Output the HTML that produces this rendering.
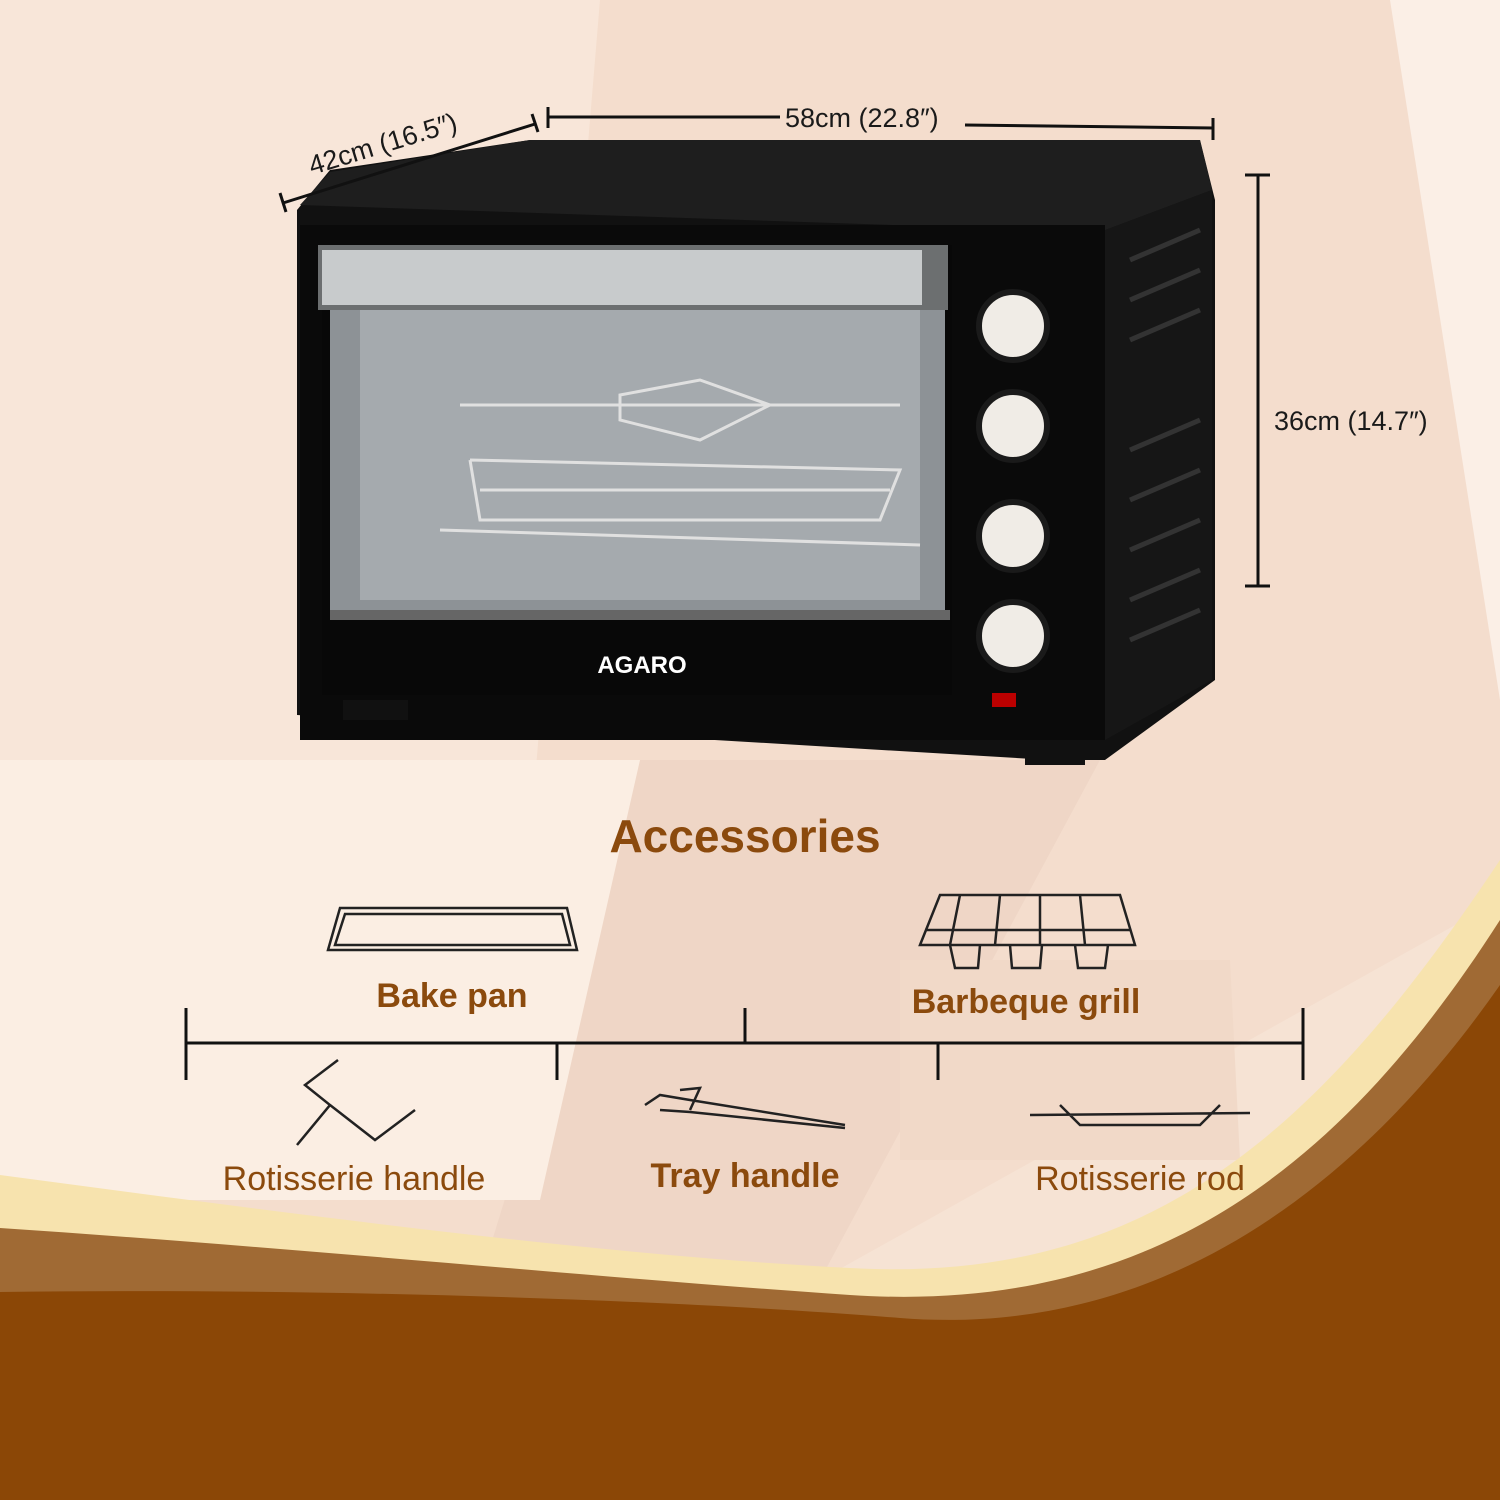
<!DOCTYPE html>
<html><head><meta charset="utf-8"><style>
html,body{margin:0;padding:0;width:1500px;height:1500px;overflow:hidden;background:#f6e1d2}
svg{display:block}
</style></head><body>
<svg width="1500" height="1500" viewBox="0 0 1500 1500" xmlns="http://www.w3.org/2000/svg" font-family="Liberation Sans, sans-serif">
<rect width="1500" height="1500" fill="#f4ddcd"/>
<polygon points="0,0 600,0 500,1200 0,1200" fill="#f8e6d9"/>
<polygon points="1390,0 1500,0 1500,700" fill="#fbefe6"/>
<polygon points="640,760 1100,760 820,1280 480,1280" fill="#efd6c6"/>
<polygon points="820,1280 1500,900 1500,1280" fill="#f6e3d4"/>
<polygon points="900,960 1230,960 1240,1160 900,1160" fill="#f1d9c8"/>
<polygon points="0,760 640,760 540,1200 0,1200" fill="#fbeee3"/>
<path d="M0,1175 C300,1215 600,1255 850,1268 C1150,1285 1320,1130 1500,860 L1500,1500 L0,1500Z" fill="#f7e3ae"/>
<path d="M0,1228 C300,1248 600,1278 850,1295 C1150,1315 1340,1170 1500,920 L1500,1500 L0,1500Z" fill="#a06a34"/>
<path d="M0,1292 C300,1288 650,1298 900,1318 C1150,1338 1350,1200 1500,985 L1500,1500 L0,1500Z" fill="#8b4706"/>
<!-- oven -->
<polygon points="330,170 530,140 1200,140 1215,200 1215,680 1105,760 1050,760 297,715 297,210" fill="#111"/>
<polygon points="530,140 1200,140 1212,190 1100,232 300,205 330,172" fill="#1e1e1e"/>
<polygon points="1100,232 1212,190 1212,680 1105,740" fill="#161616"/>
<g stroke="#333" stroke-width="5">
<line x1="1130" y1="260" x2="1200" y2="230"/><line x1="1130" y1="300" x2="1200" y2="270"/>
<line x1="1130" y1="340" x2="1200" y2="310"/><line x1="1130" y1="450" x2="1200" y2="420"/>
<line x1="1130" y1="500" x2="1200" y2="470"/><line x1="1130" y1="550" x2="1200" y2="520"/>
<line x1="1130" y1="600" x2="1200" y2="570"/><line x1="1130" y1="640" x2="1200" y2="610"/>
</g>
<rect x="300" y="225" width="805" height="515" fill="#0a0a0a"/>
<rect x="322" y="245" width="630" height="450" fill="#080808"/>
<rect x="330" y="290" width="615" height="320" fill="#8d9296"/>
<rect x="360" y="300" width="560" height="300" fill="#a5aaae"/>
<rect x="318" y="245" width="630" height="65" fill="#6c6f70"/>
<rect x="322" y="250" width="600" height="55" fill="#c8cbcc"/>
<g stroke="#e0e0e0" stroke-width="3" fill="none">
<line x1="460" y1="405" x2="900" y2="405"/>
<polygon points="620,395 700,380 770,405 700,440 620,420"/>
<polyline points="470,460 900,470 880,520 480,520 470,460"/>
<line x1="480" y1="490" x2="890" y2="490"/>
<line x1="440" y1="530" x2="920" y2="545"/>
</g>
<rect x="330" y="610" width="620" height="10" fill="#666"/>
<text x="642" y="673" font-size="24" font-weight="bold" fill="#fff" text-anchor="middle">AGARO</text>
<rect x="343" y="700" width="65" height="20" fill="#111"/>
<rect x="1025" y="740" width="60" height="25" fill="#111"/>
<g fill="#f0ece6" stroke="#1a1a1a" stroke-width="6">
<circle cx="1013" cy="326" r="34"/><circle cx="1013" cy="426" r="34"/>
<circle cx="1013" cy="536" r="34"/><circle cx="1013" cy="636" r="34"/>
</g>
<rect x="992" y="693" width="24" height="14" fill="#b00"/>
<g stroke="#111" stroke-width="3">
<line x1="548" y1="117" x2="780" y2="117"/><line x1="965" y1="125" x2="1213" y2="128"/>
<line x1="548" y1="107" x2="548" y2="128"/><line x1="1213" y1="118" x2="1213" y2="140"/>
<line x1="283" y1="203" x2="535" y2="124"/><line x1="280" y1="193" x2="286" y2="212"/><line x1="532" y1="114" x2="538" y2="132"/>
<line x1="1258" y1="175" x2="1258" y2="586"/><line x1="1245" y1="175" x2="1270" y2="175"/><line x1="1245" y1="586" x2="1270" y2="586"/>
</g>
<g fill="#1a1a1a" font-size="27">
<text x="785" y="127">58cm (22.8″)</text>
<text x="1274" y="430">36cm (14.7″)</text>
<text transform="translate(312,175) rotate(-17)">42cm (16.5″)</text>
</g>
<text x="745" y="852" font-size="46" font-weight="bold" fill="#8b4a0d" text-anchor="middle">Accessories</text>
<g stroke="#111" stroke-width="3">
<line x1="186" y1="1043" x2="1303" y2="1043"/>
<line x1="186" y1="1008" x2="186" y2="1080"/><line x1="1303" y1="1008" x2="1303" y2="1080"/>
<line x1="557" y1="1043" x2="557" y2="1080"/><line x1="745" y1="1008" x2="745" y2="1043"/><line x1="938" y1="1043" x2="938" y2="1080"/>
</g>
<g stroke="#222" stroke-width="2.5" fill="none">
<path d="M328,950 L340,908 L567,908 L577,950 Z"/><path d="M345,914 L562,914 L570,945 L335,945Z"/>
<path d="M920,945 L940,895 L1120,895 L1135,945 Z"/><path d="M950,945 L955,968 L978,968 L980,945 M1010,945 L1012,968 L1040,968 L1042,945 M1075,945 L1078,968 L1105,968 L1108,945"/>
<path d="M925,930 L1130,930 M960,895 L950,945 M1000,895 L995,945 M1040,895 L1040,945 M1080,895 L1085,945"/>
<path d="M338,1060 L305,1085 L330,1105 L297,1145 M330,1105 L375,1140 L415,1110"/>
<path d="M645,1105 L660,1095 L690,1100 L845,1125 M660,1110 L690,1112 L845,1128 M680,1090 L700,1088 L690,1110"/>
<path d="M1030,1115 L1250,1113 M1060,1105 L1080,1125 L1200,1125 L1220,1105"/>
</g>
<g font-size="34" fill="#8b4a0d" text-anchor="middle">
<text x="452" y="1007" font-weight="bold">Bake pan</text>
<text x="1026" y="1013" font-weight="bold">Barbeque grill</text>
<text x="354" y="1190">Rotisserie handle</text>
<text x="745" y="1187" font-weight="bold">Tray handle</text>
<text x="1140" y="1190">Rotisserie rod</text>
</g>
</svg>
</body></html>
